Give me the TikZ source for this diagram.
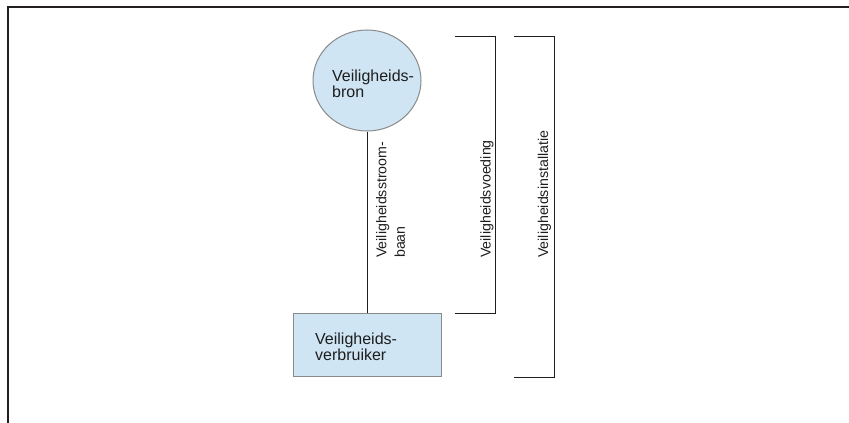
\documentclass[tikz,border=0pt]{standalone}
\usepackage{fontspec}
\setmainfont{Liberation Sans}
\usetikzlibrary{shapes.geometric}
\definecolor{fillblue}{HTML}{CFE5F3}
\definecolor{edgegray}{HTML}{8A8A8A}
\definecolor{framedark}{HTML}{231F20}
\definecolor{inkdark}{HTML}{1E1E1E}
\begin{document}
\begin{tikzpicture}[x=1pt,y=-1pt,
  blob/.style={draw=edgegray, line width=1pt, fill=fillblue, inner sep=0pt},
  htext/.style={inner sep=0pt, align=left, text=inkdark, font=\fontsize{16}{15.5}\selectfont},
  vtext/.style={inner sep=0pt, align=left, rotate=90, text=inkdark, font=\fontsize{14.2}{18.5}\selectfont},
  wire/.style={draw=inkdark, line width=1pt},
  bracketline/.style={draw=inkdark, line width=1pt}]
\useasboundingbox (0,0) rectangle (849,423);
\draw[framedark, line width=2pt] (849,7) -- (8,7) -- (8,423);
% nodes
\node[blob, ellipse, minimum width=108pt, minimum height=101pt] (src) at (367,80.5) {};
\node[blob, rectangle, minimum width=148pt, minimum height=63pt] (dst) at (367,344.5) {};
\node[htext, anchor=north west] (srctext) at (332,70) {Veiligheids-\\bron};
\node[htext, anchor=north west] (dsttext) at (315,333) {Veiligheids-\\verbruiker};
\draw[wire] (src.south) -- (dst.north);
% brackets
\coordinate (b1a) at (455,36);
\coordinate (b1b) at (495,36);
\coordinate (b1c) at (495,313);
\coordinate (b1d) at (455,313);
\coordinate (b2a) at (514,36);
\coordinate (b2b) at (554,36);
\coordinate (b2c) at (554,377);
\coordinate (b2d) at (514,377);
\draw[bracketline] (b1a) -- (b1b) -- (b1c) -- (b1d);
\draw[bracketline] (b2a) -- (b2b) -- (b2c) -- (b2d);
% rotated labels
\node[vtext, anchor=north west] (lbl1) at (376,258) {Veiligheidsstroom-\\baan};
\node[vtext, anchor=base west] (lbl2) at (490.5,258) {Veiligheidsvoeding};
\node[vtext, anchor=base west] (lbl3) at (548,258) {Veiligheidsinstallatie};
\end{tikzpicture}
\end{document}
